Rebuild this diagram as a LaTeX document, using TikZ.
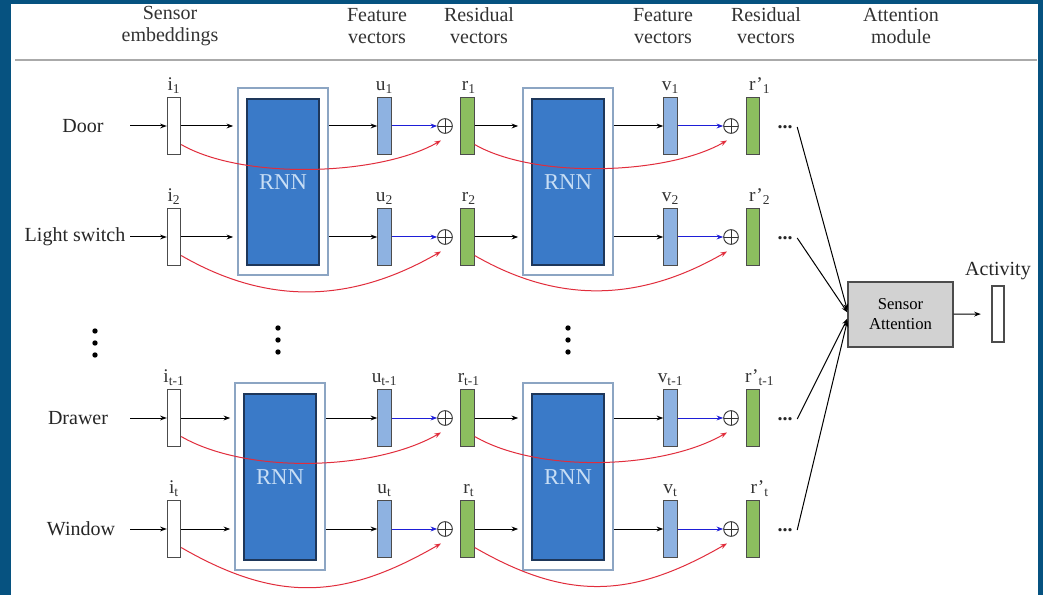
\documentclass[tikz,border=0pt]{standalone}
\usepackage{fontspec}
\setmainfont{Liberation Serif}
\usetikzlibrary{shapes,arrows.meta,positioning}

\definecolor{frameblue}{RGB}{6,82,128}
\definecolor{rulegray}{RGB}{170,170,170}
\definecolor{rnnedge}{RGB}{140,165,195}
\definecolor{rnnfill}{RGB}{58,122,200}
\definecolor{rnndark}{RGB}{30,55,90}
\definecolor{rnntext}{RGB}{200,222,245}
\definecolor{featblue}{RGB}{142,178,225}
\definecolor{resgreen}{RGB}{140,190,95}
\definecolor{skipred}{RGB}{225,45,60}
\definecolor{sumblue}{RGB}{30,30,215}
\definecolor{attgray}{RGB}{210,210,210}

\begin{document}
\begin{tikzpicture}[
        x=0.75pt, y=-0.75pt,
        vec/.style={rectangle, draw=black!70, line width=0.8pt, minimum width=10pt, minimum height=43pt, inner sep=0pt},
        embed/.style={vec, fill=white},
        feat/.style={vec, fill=featblue},
        resid/.style={vec, fill=resgreen},
        rnnouter/.style={rectangle, draw=rnnedge, line width=1.2pt, fill=white, minimum width=67.5pt, minimum height=140pt},
        rnninner/.style={rectangle, draw=rnndark, line width=0.9pt, fill=rnnfill, minimum width=54pt, minimum height=124.5pt, text=rnntext, font=\fontsize{17}{17}\selectfont},
        attbox/.style={rectangle, draw=black!70, line width=0.8pt, fill=attgray, minimum width=78.75pt, minimum height=48.75pt, align=center, font=\fontsize{12.5}{15}\selectfont},
        head/.style={align=center, text=black!80, font=\fontsize{15}{16.5}\selectfont},
        sensor/.style={text=black!85, font=\fontsize{15}{18}\selectfont},
        vlabel/.style={text=black!80, inner sep=1pt, font=\fontsize{14.5}{14.5}\selectfont},
        sum/.style={circle, draw=black!80, line width=0.7pt, minimum size=11pt, inner sep=0pt,
            path picture={\draw[black!80, line width=0.7pt]
                (path picture bounding box.north) -- (path picture bounding box.south)
                (path picture bounding box.west) -- (path picture bounding box.east);}},
        arrow/.style={-{Stealth[length=5pt, width=3.6pt]}, line width=0.75pt},
        sumarrow/.style={arrow, draw=sumblue},
        skiparrow/.style={arrow, draw=skipred}
    ]
        % Frame
        \fill[frameblue] (0,0) rectangle (1043,595);
        \fill[white] (11,4) rectangle (1038,595);
        \useasboundingbox (0,0) rectangle (1043,595);

        % Column headings
        \node[head] (hsens) at (170,26) {Sensor\\embeddings};
        \node[head] (hfeatA) at (377,26) {Feature\\vectors};
        \node[head] (hresA) at (479,26) {Residual\\vectors};
        \node[head] (hfeatB) at (663,26) {Feature\\vectors};
        \node[head] (hresB) at (766,26) {Residual\\vectors};
        \node[head] (hatt) at (901,26) {Attention\\module};
        \draw[rulegray, line width=2.2pt] (15,60) -- (1037,60);

        % RNN blocks
        \node[rnnouter] (rnnA) at (283,181.5) {};
        \node[rnninner] (rnnAin) at (283,182) {RNN};
        \node[rnnouter] (rnnB) at (280,476.5) {};
        \node[rnninner] (rnnBin) at (280,477) {RNN};
        \node[rnnouter] (rnnC) at (568,181.5) {};
        \node[rnninner] (rnnCin) at (568,182) {RNN};
        \node[rnnouter] (rnnD) at (568,476.5) {};
        \node[rnninner] (rnnDin) at (568,477) {RNN};

        % Attention module and output
        \node[attbox] (att) at (900.5,314.5) {Sensor\\Attention};
        \node[embed, minimum width=9pt, minimum height=42pt] (act) at (998,314) {};
        \node[sensor, above=1pt of act] (actlab) {Activity};
        \draw[arrow, shorten >=8pt] (att) -- (act);

        % Skipped rows
        \foreach \vx/\vy in {95/331, 278/328, 568/328}
            \foreach \k in {0,1,2}
                \fill (\vx,\vy+\k*12) circle (2pt);

        % One row per sensor
        \foreach \n/\y/\lx/\lab/\sub/\ra/\rb/\lo/\ay in {1/126/83/Door/1/A/C/0.7/3pt, 2/237/75/Light switch/2/A/C/1/1.5pt, 3/418/78/Drawer/t-1/B/D/0.75/-3pt, 4/529/81/Window/t/B/D/1.1/-4.5pt}{
            \node[sensor] (lab\n) at (\lx,\y) {\lab};
            \coordinate (in\n) at (130,\y);
            \node[embed] (i\n) at (174,\y) {};
            \node[vlabel, above=1pt of i\n] (il\n) {i\textsubscript{\sub}};
            \node[feat] (u\n) at (384.5,\y) {};
            \node[vlabel, above=1pt of u\n] (ul\n) {u\textsubscript{\sub}};
            \node[sum] (p\n) at (445,\y) {};
            \node[resid] (r\n) at (467.5,\y) {};
            \node[vlabel, above=1pt of r\n, xshift=1pt] (rl\n) {r\textsubscript{\sub}};
            \node[feat] (v\n) at (670.5,\y) {};
            \node[vlabel, above=1pt of v\n] (vl\n) {v\textsubscript{\sub}};
            \node[sum] (q\n) at (731,\y) {};
            \node[resid] (s\n) at (753,\y) {};
            \node[vlabel, above=1pt of s\n, xshift=5pt] (sl\n) {r’\textsubscript{\sub}};
            \node[sensor] (d\n) at (785,\y+1) {\textbf{...}};

            \draw[arrow] (in\n) -- (i\n);
            \draw[arrow, shorten >=3pt] (i\n) -- (rnn\ra.west |- i\n);
            \draw[arrow] (rnn\ra.east |- u\n) -- (u\n);
            \draw[sumarrow] (u\n) -- (p\n);
            \draw[skiparrow] ([yshift=8pt]i\n.south east) to[out=-30, in=-150, looseness=\lo] ([xshift=-3pt, yshift=-5pt]p\n.south);
            \draw[arrow, shorten >=3pt] (r\n) -- (rnn\rb.west |- r\n);
            \draw[arrow] (rnn\rb.east |- v\n) -- (v\n);
            \draw[sumarrow] (v\n) -- (q\n);
            \draw[skiparrow] ([yshift=8pt]r\n.south east) to[out=-30, in=-150, looseness=\lo] ([xshift=-3pt, yshift=-5pt]q\n.south);
            \draw[arrow] (d\n.east) -- ([yshift=\ay]att.west);
        }
    \end{tikzpicture}
\end{document}
